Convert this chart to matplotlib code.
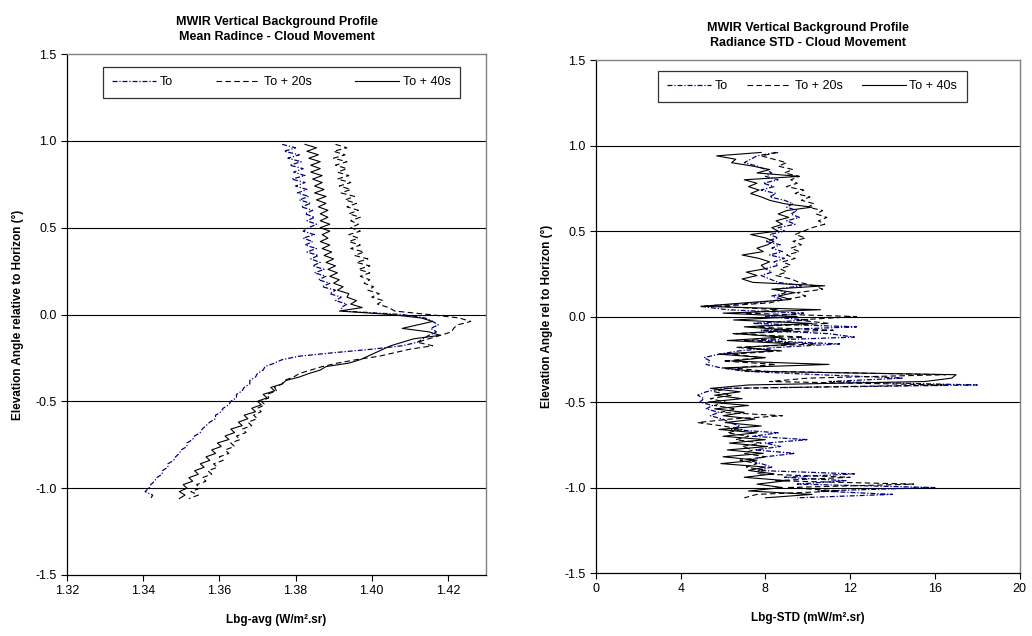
import numpy as np
import matplotlib
matplotlib.use("Agg")
import matplotlib.pyplot as plt

plt.rcParams["font.family"] = ["Liberation Sans", "DejaVu Sans"]

# ==================== Data ====================
SERIES_LABELS = ["To", "To + 20s", "To + 40s"]

# elevation samples (deg) for each panel
elev_avg = np.round(np.arange(0.98, -1.07, -0.02), 2)   # 103 samples
elev_std = np.round(np.arange(0.96, -1.07, -0.02), 2)   # 102 samples

# mean radiance (W/m2.sr)
avg_to = [
    1.3765, 1.3800, 1.3770, 1.3810, 1.3780, 1.3815, 1.3785, 1.3820, 1.3795, 1.3825,
    1.3790, 1.3825, 1.3800, 1.3830, 1.3805, 1.3835, 1.3810, 1.3840, 1.3815, 1.3845,
    1.3825, 1.3850, 1.3830, 1.3855, 1.3835, 1.3820, 1.3850, 1.3820, 1.3845, 1.3825,
    1.3855, 1.3830, 1.3860, 1.3840, 1.3865, 1.3845, 1.3875, 1.3850, 1.3880, 1.3860,
    1.3890, 1.3870, 1.3905, 1.3890, 1.3920, 1.3905, 1.3935, 1.3920, 1.3925,
    1.4080, 1.4140, 1.4160, 1.4175, 1.4155, 1.4170, 1.4150, 1.4135, 1.4120, 1.4080,
    1.4000, 1.3900,
    1.3810, 1.3765, 1.3745, 1.3720, 1.3715, 1.3700, 1.3695, 1.3680, 1.3680, 1.3665,
    1.3660, 1.3645, 1.3645, 1.3630, 1.3625, 1.3610, 1.3605, 1.3590, 1.3590, 1.3575,
    1.3565, 1.3555, 1.3550, 1.3535, 1.3530, 1.3515, 1.3515, 1.3500, 1.3495, 1.3485,
    1.3480, 1.3465, 1.3465, 1.3450, 1.3450, 1.3435, 1.3430, 1.3420, 1.3415, 1.3405,
    1.3425, 1.3420,
]
avg_to20 = [
    1.3905, 1.3935, 1.3900, 1.3930, 1.3900, 1.3935, 1.3905, 1.3935, 1.3910, 1.3940,
    1.3910, 1.3945, 1.3915, 1.3945, 1.3920, 1.3955, 1.3930, 1.3960, 1.3935, 1.3965,
    1.3940, 1.3970, 1.3945, 1.3965, 1.3945, 1.3970, 1.3940, 1.3965, 1.3940, 1.3970,
    1.3945, 1.3980, 1.3955, 1.3990, 1.3960, 1.3995, 1.3965, 1.3995, 1.3970, 1.3995,
    1.3980, 1.4005, 1.3990, 1.4020, 1.4000, 1.4030, 1.4015, 1.4045, 1.4060,
    1.4150, 1.4230, 1.4260, 1.4225, 1.4215, 1.4210, 1.4180, 1.4150, 1.4120, 1.4160,
    1.4100, 1.4060,
    1.4020, 1.3960, 1.3910, 1.3870, 1.3840, 1.3810, 1.3795, 1.3770, 1.3765, 1.3745,
    1.3750, 1.3725, 1.3730, 1.3710, 1.3720, 1.3700, 1.3710, 1.3690, 1.3700, 1.3675,
    1.3685, 1.3660, 1.3670, 1.3645, 1.3655, 1.3630, 1.3640, 1.3615, 1.3625, 1.3600,
    1.3610, 1.3585, 1.3595, 1.3570, 1.3580, 1.3555, 1.3565, 1.3540, 1.3550, 1.3525,
    1.3545, 1.3520,
]
avg_to40 = [
    1.3825, 1.3855, 1.3830, 1.3860, 1.3835, 1.3865, 1.3840, 1.3865, 1.3840, 1.3870,
    1.3845, 1.3870, 1.3850, 1.3875, 1.3850, 1.3880, 1.3855, 1.3880, 1.3860, 1.3885,
    1.3865, 1.3885, 1.3865, 1.3890, 1.3865, 1.3890, 1.3870, 1.3885, 1.3865, 1.3890,
    1.3870, 1.3895, 1.3875, 1.3900, 1.3880, 1.3905, 1.3885, 1.3910, 1.3890, 1.3915,
    1.3900, 1.3925, 1.3910, 1.3940, 1.3935, 1.3960, 1.3945, 1.3975, 1.3915,
    1.4050, 1.4130, 1.4160, 1.4120, 1.4080, 1.4150, 1.4180, 1.4110, 1.4080, 1.4050,
    1.4030, 1.4010,
    1.3990, 1.3970, 1.3940, 1.3880, 1.3865, 1.3835, 1.3810, 1.3775, 1.3765, 1.3735,
    1.3745, 1.3715, 1.3725, 1.3700, 1.3710, 1.3685, 1.3695, 1.3665, 1.3675, 1.3650,
    1.3660, 1.3630, 1.3640, 1.3615, 1.3625, 1.3595, 1.3605, 1.3580, 1.3590, 1.3565,
    1.3575, 1.3550, 1.3560, 1.3535, 1.3545, 1.3520, 1.3530, 1.3505, 1.3515, 1.3495,
    1.3510, 1.3495,
]

# radiance STD (mW/m2.sr)
std_to = [
    8.5, 7.6, 7.3, 7.0, 7.6, 8.0, 8.3, 8.0, 8.6, 7.9,
    8.4, 7.8, 8.5, 8.2, 8.9, 9.3, 9.0, 9.5, 9.2, 9.6,
    9.0, 9.4, 8.6, 8.9, 8.2, 8.6, 8.0, 8.7, 8.3, 8.8,
    8.2, 8.9, 8.4, 8.6, 8.0, 8.3, 7.8, 8.2, 8.6, 9.7,
    8.5, 9.0, 8.3, 8.8, 7.6, 4.9, 6.2, 9.8, 8.0, 10.0,
    7.4, 12.3, 7.8, 11.0, 12.2, 7.6, 11.5, 8.6, 6.8, 5.8,
    5.1, 5.4, 5.2, 5.9, 7.0, 10.5, 14.5, 11.0, 18.0, 6.0,
    5.2, 4.8, 5.1, 4.9, 5.5, 5.2, 5.8, 5.4, 6.0, 6.3,
    6.8, 6.4, 8.6, 7.4, 10.0, 8.0, 8.7, 7.5, 9.4, 8.0,
    7.2, 7.8, 8.3, 7.6, 12.2, 8.9, 11.8, 9.5, 16.0, 10.5,
    14.0, 9.5,
]
std_to20 = [
    8.6, 7.8, 8.4, 9.0, 8.6, 9.3, 8.9, 9.6, 9.2, 9.5,
    9.0, 9.8, 9.4, 10.1, 9.7, 10.3, 10.0, 10.7, 10.4, 10.9,
    10.5, 10.8, 10.2, 9.8, 9.4, 9.9, 9.3, 9.7, 9.2, 9.6,
    9.0, 9.4, 8.8, 9.2, 8.7, 9.0, 8.5, 9.2, 9.6, 10.3,
    10.7, 9.5, 9.9, 8.9, 8.2, 5.8, 8.6, 7.0, 12.3, 9.5,
    11.0, 7.2, 11.2, 6.4, 9.8, 7.0, 10.4, 6.6, 8.8, 6.4,
    7.9, 6.0, 8.5, 6.5, 8.0, 16.5, 10.0, 8.2, 16.5, 6.2,
    5.6, 6.4, 5.4, 6.1, 5.6, 6.6, 5.9, 8.8, 6.3, 4.8,
    6.0, 6.9, 6.2, 7.2, 6.6, 7.8, 6.9, 7.4, 7.0, 8.0,
    6.8, 7.6, 7.1, 8.0, 7.6, 12.0, 8.4, 15.0, 9.0, 11.5,
    7.6, 7.0,
]
std_to40 = [
    7.8, 5.7, 6.6, 6.4, 7.4, 8.2, 7.6, 9.6, 7.0, 7.6,
    7.2, 7.7, 7.3, 7.8, 8.2, 8.9, 10.2, 9.0, 8.6, 9.1,
    8.5, 8.8, 8.3, 8.6, 7.3, 8.0, 8.4, 8.1, 7.6, 7.9,
    6.9, 7.7, 8.2, 7.8, 8.0, 7.1, 7.6, 6.9, 7.4, 10.8,
    8.3, 9.4, 8.6, 9.2, 7.0, 5.0, 10.6, 6.0, 9.5, 6.5,
    10.2, 7.0, 9.3, 6.6, 8.8, 6.2, 9.4, 7.0, 8.4, 5.8,
    8.0, 6.4, 11.0, 6.0, 7.4, 17.0, 16.8, 15.5, 7.2, 5.4,
    6.8, 5.6, 6.9, 5.3, 7.2, 5.6, 7.0, 6.0, 7.5, 6.1,
    7.8, 5.8, 7.6, 6.0, 8.0, 6.3, 8.1, 6.2, 7.9, 6.0,
    7.6, 5.9, 8.0, 7.2, 8.4, 7.0, 9.0, 7.6, 8.8, 7.2,
    10.2, 8.0,
]

avg_xticks = [1.32, 1.34, 1.36, 1.38, 1.40, 1.42]
std_xticks = [0, 4, 8, 12, 16, 20]
yticks = [-1.5, -1.0, -0.5, 0.0, 0.5, 1.0, 1.5]

# ==================== Styling ====================
STYLES = [
    dict(color="#000080", linestyle=(0, (4, 1.5, 1, 1.5)), linewidth=0.9),
    dict(color="black", linestyle=(0, (5, 3)), linewidth=0.8),
    dict(color="black", linestyle="-", linewidth=0.8),
]


def style_axes(ax, xlim, xticks, xfmt, title, xlabel, ylabel):
    ax.set_xlim(*xlim)
    ax.set_ylim(-1.5, 1.5)
    ax.set_xticks(xticks)
    ax.set_xticklabels([xfmt.format(v) for v in xticks])
    ax.set_yticks(yticks)
    ax.set_yticklabels([f"{v:.1f}" for v in yticks])
    ax.tick_params(axis="both", labelsize=9, length=4, width=0.8, direction="out")
    for y in [-1.0, -0.5, 0.0, 0.5, 1.0]:
        ax.axhline(y, color="black", linewidth=0.8, zorder=1)
    for s in ["left", "bottom"]:
        ax.spines[s].set_color("black")
        ax.spines[s].set_linewidth(0.9)
    for s in ["top", "right"]:
        ax.spines[s].set_color("#808080")
        ax.spines[s].set_linewidth(1.0)
    ax.set_title(title, fontsize=9, fontweight="bold", pad=10, linespacing=1.4)
    ax.set_xlabel(xlabel, fontsize=8.5, fontweight="bold", labelpad=12)
    ax.set_ylabel(ylabel, fontsize=8.5, fontweight="bold", labelpad=8)


fig = plt.figure(figsize=(10.32, 6.36), dpi=100)
ax1 = fig.add_axes([0.0649, 0.096, 0.406, 0.819])
ax2 = fig.add_axes([0.5775, 0.099, 0.4105, 0.8065])

for vals, lab, st in zip([avg_to, avg_to20, avg_to40], SERIES_LABELS, STYLES):
    ax1.plot(vals, elev_avg, label=lab, zorder=3, **st)
for vals, lab, st in zip([std_to, std_to20, std_to40], SERIES_LABELS, STYLES):
    ax2.plot(vals, elev_std, label=lab, zorder=3, **st)

style_axes(ax1, (1.32, 1.43), avg_xticks, "{:.2f}",
           "MWIR Vertical Background Profile\nMean Radince - Cloud Movement",
           "Lbg-avg (W/m².sr)", "Elevation Angle relative to Horizon (°)")
style_axes(ax2, (0, 20), std_xticks, "{:d}",
           "MWIR Vertical Background Profile\nRadiance STD - Cloud Movement",
           "Lbg-STD (mW/m².sr)", "Elevation Angle rel to Horizon (°)")

# legend boxes: (x0, top, width) in axes fraction, column gap
for ax, (x0, top, w), gap in [(ax1, (0.086, 0.975, 0.852), 6.0),
                              (ax2, (0.146, 0.979, 0.729), 2.5)]:
    leg = ax.legend(loc="upper left", bbox_to_anchor=(x0, top, w, 0), borderaxespad=0,
                    mode="expand", ncol=3, fontsize=9, frameon=True, fancybox=False,
                    handlelength=3.5, handletextpad=0.3, columnspacing=gap, borderpad=0.75)
    leg.get_frame().set_edgecolor("black")
    leg.get_frame().set_linewidth(0.9)

fig.savefig("out.png", dpi=100)
